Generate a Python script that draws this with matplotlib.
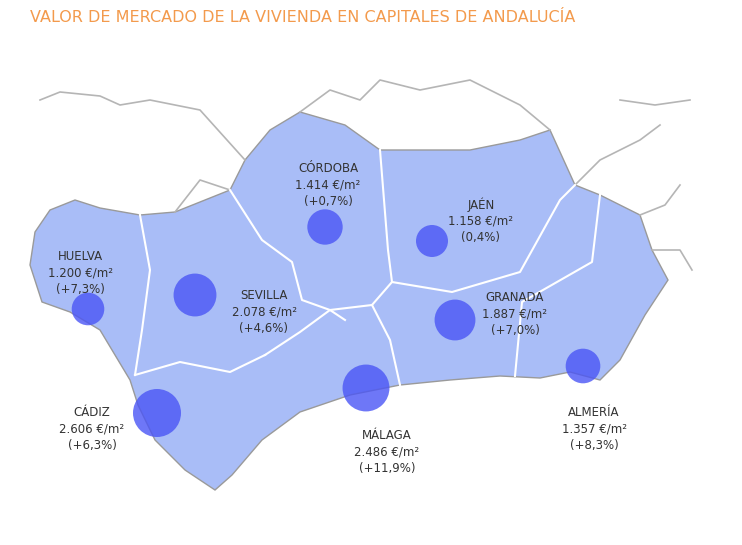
import numpy as np
import matplotlib.pyplot as plt
from matplotlib.patches import Polygon, Circle

cities = ['HUELVA', 'CÓRDOBA', 'JAÉN', 'SEVILLA', 'GRANADA', 'ALMERÍA', 'CÁDIZ', 'MÁLAGA']
prices = [1200, 1414, 1158, 2078, 1887, 1357, 2606, 2486]
price_labels = ['1.200', '1.414', '1.158', '2.078', '1.887', '1.357', '2.606', '2.486']
changes = ['(+7,3%)', '(+0,7%)', '(0,4%)', '(+4,6%)', '(+7,0%)', '(+8,3%)', '(+6,3%)', '(+11,9%)']
# city positions on the map image (x, y)
city_x = [88, 325, 432, 195, 455, 583, 157, 366]
city_y = [309, 227, 241, 295, 320, 366, 413, 388]
label_x = [80, 328, 481, 264, 515, 594, 92, 387]
label_y = [250, 162, 197, 289, 291, 406, 406, 429]

outline = [(50, 210), (75, 200), (100, 208), (140, 215), (175, 212), (230, 190), (245, 160),
           (270, 130), (300, 112), (345, 125), (380, 150), (420, 150), (470, 150), (520, 140),
           (550, 130), (575, 185), (600, 195), (640, 215), (652, 250), (668, 280), (645, 315),
           (620, 360), (600, 380), (570, 372), (540, 378), (500, 376), (450, 380), (400, 385),
           (350, 395), (300, 412), (262, 440), (232, 475), (215, 490), (185, 470), (155, 440),
           (138, 405), (130, 380), (100, 330), (70, 312), (42, 302), (30, 265), (35, 232)]
borders = [
    [(140, 215), (150, 270), (142, 330), (135, 375)],
    [(135, 375), (180, 362), (230, 372), (265, 355)],
    [(230, 190), (262, 240), (292, 262), (302, 300), (330, 310)],
    [(265, 355), (300, 332), (330, 310), (345, 320)],
    [(380, 150), (388, 250), (392, 282)],
    [(330, 310), (372, 305), (392, 282)],
    [(372, 305), (390, 340), (400, 385)],
    [(392, 282), (452, 292), (520, 272), (560, 200), (575, 185)],
    [(600, 195), (592, 262), (522, 302), (515, 376)],
]
outer = [
    [(40, 100), (60, 92), (100, 96), (120, 105), (150, 100), (200, 110), (245, 160)],
    [(230, 190), (200, 180), (175, 212)],
    [(300, 112), (330, 90), (360, 100), (380, 80), (420, 90), (470, 80), (520, 105), (550, 130)],
    [(575, 185), (600, 160), (640, 140), (660, 125)],
    [(640, 215), (665, 205), (680, 185)],
    [(652, 250), (680, 250), (692, 270)],
    [(620, 100), (655, 105), (690, 100)],
]

fig = plt.figure(figsize=(7.42, 5.45), dpi=100)
ax = fig.add_axes([0, 0, 1, 1])
ax.set_xlim(0, 742)
ax.set_ylim(545, 0)
ax.axis('off')

for line in outer:
    xs, ys = zip(*line)
    ax.plot(xs, ys, color='#b5b5b5', lw=1.2)
ax.add_patch(Polygon(outline, closed=True, facecolor='#a9bdf7', edgecolor='#9a9a9a', lw=1))
for line in borders:
    xs, ys = zip(*line)
    ax.plot(xs, ys, color='white', lw=1.5)

for i in range(len(cities)):
    r = 24 * np.sqrt(prices[i] / 2606)
    ax.add_patch(Circle((city_x[i], city_y[i]), r, facecolor='#4a55f5', alpha=0.8, lw=0))
    txt = cities[i] + '\n' + price_labels[i] + ' €/m²\n' + changes[i]
    ax.text(label_x[i], label_y[i], txt, ha='center', va='top', fontsize=8.5,
            color='#333333', linespacing=1.35)

fig.text(30 / 742, 1 - 18 / 545, 'VALOR DE MERCADO DE LA VIVIENDA EN CAPITALES DE ANDALUCÍA',
         color='#f39a4c', fontsize=11.5, va='center')
fig.savefig('out.png', dpi=100)
